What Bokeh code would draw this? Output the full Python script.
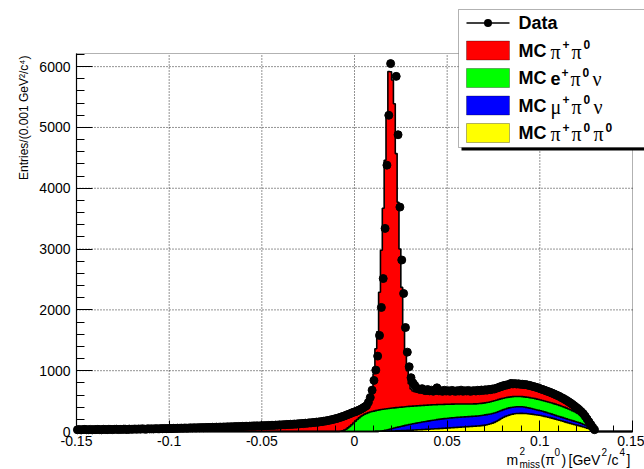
import numpy as np
from bokeh.plotting import figure
from bokeh.models import Range1d, FixedTicker, BoxAnnotation, Label
from bokeh.embed import file_html
from bokeh.resources import INLINE

# ------------------------------------------------------------------ data
bin_lo = -0.15
bin_width = 0.001
n_bins = 300

# data points (bins whose point lies above the displayed range are not shown)
data_counts = [
    28, 33, 26, 31, 35, 29, 30, 34, 27, 32,
    30, 35, 31, 28, 36, 33, 30, 37, 34, 31,
    35, 38, 32, 36, 34, 39, 37, 33, 40, 36,
    38, 41, 37, 42, 39, 44, 40, 38, 45, 42,
    44, 41, 47, 45, 43, 48, 46, 50, 47, 49,
    51, 48, 53, 50, 55, 52, 56, 54, 58, 55,
    57, 60, 58, 62, 59, 63, 61, 65, 62, 66,
    64, 68, 66, 70, 67, 72, 69, 73, 71, 75,
    73, 77, 75, 79, 76, 81, 78, 83, 80, 85,
    83, 87, 85, 89, 86, 91, 88, 93, 90, 95,
    93, 97, 95, 100, 98, 103, 100, 106, 104, 109,
    107, 112, 110, 116, 114, 119, 117, 123, 121, 127,
    126, 132, 130, 137, 135, 142, 141, 148, 147, 155,
    154, 162, 162, 171, 172, 181, 184, 194, 198, 209,
    214, 226, 233, 246, 255, 268, 280, 292, 305, 318,
    325, 340, 352, 368, 385, 405, 425, 480, 560, 680,
    840, 1010, 1240, 1580, 2040, 2515, 3340, 4380, 5200, 6050,
    None, None, 5840, 4880, 3690, 2820, 2270, 1710, 1305, 1065,
    885, 800, 760, 715, 700, 690, 705, 680, 672, 690,
    668, 680, 662, 675, 718, 668, 672, 660, 678, 665,
    670, 662, 676, 668, 660, 672, 665, 680, 662, 670,
    666, 675, 660, 668, 672, 665, 678, 670, 682, 675,
    686, 680, 692, 688, 700, 698, 712, 720, 735, 742,
    755, 760, 768, 775, 790, 782, 788, 780, 785, 775,
    778, 770, 772, 762, 758, 748, 740, 732, 722, 712,
    700, 690, 680, 668, 656, 645, 632, 620, 606, 592,
    578, 560, 545, 528, 510, 490, 470, 448, 425, 400,
    378, 350, 322, 290, 250, 205, 160, 115, 70, 30,
    None, None, None, None, None, None, None, None, None, None,
    None, None, None, None, None, None, None, None, None, None,
]

mc_pipi0 = [
    30, 31, 29, 31, 32, 30, 31, 33, 31, 32,
    32, 33, 32, 33, 34, 33, 34, 35, 34, 35,
    36, 36, 35, 37, 37, 38, 38, 37, 39, 39,
    40, 40, 41, 41, 42, 42, 43, 43, 44, 44,
    45, 45, 46, 46, 47, 47, 48, 48, 49, 50,
    50, 51, 52, 52, 53, 54, 55, 55, 56, 57,
    58, 59, 59, 60, 61, 62, 63, 64, 64, 65,
    66, 67, 68, 69, 70, 71, 72, 73, 74, 75,
    76, 77, 78, 79, 80, 81, 82, 84, 85, 86,
    87, 88, 90, 91, 92, 93, 95, 96, 97, 99,
    100, 102, 103, 105, 106, 108, 110, 111, 113, 115,
    117, 119, 121, 123, 125, 127, 129, 132, 134, 137,
    139, 142, 145, 148, 151, 154, 158, 161, 165, 169,
    173, 177, 181, 185, 189, 193, 197, 201, 205, 209,
    210, 220, 229, 234, 234, 230, 220, 208, 194, 180,
    165, 152, 142, 135, 134, 139, 154, 190, 270, 402,
    615, 1017, 1290, 1934, 2619, 3304, 4090, 4796, 5542, 5533,
    5394, 5001, 4178, 3375, 2602, 1969, 1256, 873, 590, 372,
    284, 247, 235, 228, 224, 220, 217, 214, 211, 208,
    206, 203, 201, 199, 198, 197, 196, 195, 194, 193,
    192, 191, 191, 191, 191, 191, 192, 191, 192, 192,
    193, 193, 193, 194, 194, 194, 193, 192, 191, 189,
    188, 186, 184, 181, 178, 175, 173, 171, 169, 168,
    168, 167, 167, 167, 167, 167, 167, 167, 167, 167,
    167, 167, 167, 167, 167, 166, 166, 165, 165, 164,
    164, 163, 162, 160, 158, 156, 154, 151, 148, 145,
    141, 138, 134, 130, 125, 120, 114, 108, 100, 92,
    84, 76, 68, 59, 51, 42, 32, 22, 12, 2,
    0, 0, 0, 0, 0, 0, 0, 0, 0, 0,
    0, 0, 0, 0, 0, 0, 0, 0, 0, 0,
]

mc_epi0nu = [0] * 140 + [
    0, 0, 3, 10, 22, 38, 60, 85, 112, 140,
    170, 198, 224, 248, 268, 285, 298, 310, 319, 327,
    334, 341, 348, 351, 353, 353, 351, 349, 345, 341,
    337, 332, 327, 323, 319, 314, 311, 306, 303, 299,
    296, 291, 288, 284, 280, 277, 273, 270, 267, 264,
    261, 258, 255, 251, 247, 244, 241, 238, 235, 232,
    230, 228, 226, 223, 221, 219, 216, 215, 213, 211,
    209, 207, 206, 204, 203, 202, 201, 200, 199, 199,
    198, 198, 199, 200, 202, 203, 202, 200, 197, 193,
    188, 185, 181, 178, 175, 173, 171, 169, 168, 167,
    167, 168, 169, 172, 173, 175, 176, 178, 179, 179,
    178, 178, 179, 180, 181, 181, 182, 183, 185, 186,
    183, 182, 180, 178, 176, 173, 169, 165, 160, 154,
    146, 137, 126, 115, 101, 85, 68, 50, 32, 14,
] + [0] * 20

mc_mupi0nu = [0] * 160 + [
    0, 0, 0, 2, 5, 9, 14, 20, 27, 34,
    41, 48, 55, 61, 67, 73, 78, 84, 89, 94,
    99, 104, 108, 112, 116, 120, 124, 127, 130, 134,
    137, 140, 143, 146, 149, 151, 153, 155, 157, 159,
    160, 161, 162, 163, 164, 164, 165, 165, 165, 165,
    165, 165, 165, 165, 165, 165, 166, 167, 168, 168,
    168, 167, 165, 162, 158, 153, 148, 142, 136, 130,
    126, 122, 120, 118, 116, 114, 113, 112, 111, 110,
    108, 105, 102, 98, 95, 92, 89, 86, 83, 80,
    78, 76, 74, 72, 70, 68, 66, 64, 62, 60,
    62, 61, 60, 59, 58, 57, 56, 55, 54, 53,
    52, 50, 48, 45, 42, 38, 33, 26, 18, 8,
] + [0] * 20

mc_pipi0pi0 = [0] * 150 + [
    0, 0, 0, 0, 0, 0, 0, 0, 1, 1,
    1, 2, 2, 3, 3, 4, 5, 5, 6, 7,
    8, 9, 10, 11, 12, 14, 15, 17, 18, 20,
    21, 23, 24, 26, 28, 29, 31, 33, 35, 36,
    38, 40, 42, 44, 46, 48, 50, 52, 54, 56,
    58, 60, 62, 64, 66, 68, 70, 72, 74, 76,
    78, 80, 82, 84, 86, 88, 90, 93, 96, 100,
    105, 111, 118, 127, 137, 150, 165, 182, 200, 218,
    234, 248, 260, 270, 279, 286, 291, 295, 297, 298,
    298, 297, 295, 292, 289, 285, 281, 276, 271, 267,
    262, 256, 249, 242, 235, 228, 220, 212, 203, 194,
    185, 176, 168, 159, 150, 141, 133, 124, 116, 108,
    100, 92, 84, 75, 65, 55, 44, 32, 18, 6,
] + [0] * 20

x_ticks = [-0.15, -0.1, -0.05, 0.0, 0.05, 0.1, 0.15]
x_tick_labels = ["-0.15", "-0.1", "-0.05", "0", "0.05", "0.1", "0.15"]
y_ticks = [0, 1000, 2000, 3000, 4000, 5000, 6000]
y_tick_labels = ["0", "1000", "2000", "3000", "4000", "5000", "6000"]
x_minor = [round(-0.15 + 0.01 * k, 3) for k in range(31)]
y_minor = [200 * k for k in range(32)]
x_lim = (-0.15, 0.15)
y_lim = (0, 6216)

# ------------------------------------------------------------------ layout
W, H = 644, 469
PL, PR, PT, PB = 76, 632, 53, 431          # plot-area edges on the page (px)
FONT = "Liberation Sans"
SERIF = "Liberation Serif"

dx = (x_lim[1] - x_lim[0]) / (PR - PL)
dy = (y_lim[1] - y_lim[0]) / (PB - PT)
p = figure(width=W, height=H, output_backend="svg", toolbar_location=None, title=None,
           x_range=Range1d(x_lim[0] - PL * dx, x_lim[1] + (W - PR) * dx),
           y_range=Range1d(y_lim[0] - (H - PB) * dy, y_lim[1] + PT * dy),
           min_border=0, min_border_left=0, min_border_right=0,
           min_border_top=0, min_border_bottom=0)
p.background_fill_color = "white"
p.border_fill_color = "white"
p.outline_line_color = None
p.xgrid.visible = False
p.ygrid.visible = False

# grid (dotted, at major ticks only)
gx = x_ticks[1:-1]
gy = y_ticks[1:]
p.segment(x0=gx, y0=[y_lim[0]] * len(gx), x1=gx, y1=[y_lim[1]] * len(gx),
          line_color="black", line_dash="1 2", line_width=1, line_alpha=0.85)
p.segment(x0=[x_lim[0]] * len(gy), y0=gy, x1=[x_lim[1]] * len(gy), y1=gy,
          line_color="black", line_dash="1 2", line_width=1, line_alpha=0.85)

# stacked histogram
edges = bin_lo + bin_width * np.arange(n_bins + 1)
centers = edges[:-1] + bin_width / 2
xs = np.repeat(edges, 2)[1:-1]

yellow = np.array(mc_pipi0pi0, dtype=float)
blue = yellow + np.array(mc_mupi0nu, dtype=float)
green = blue + np.array(mc_epi0nu, dtype=float)
red = green + np.array(mc_pipi0, dtype=float)

for top, col in [(red, "#ff0000"), (green, "#00ff00"), (blue, "#0000ff"), (yellow, "#ffff00")]:
    ys = np.repeat(top, 2)
    p.varea(x=xs, y1=np.zeros_like(ys), y2=ys, fill_color=col)
    p.line(x=xs, y=ys, line_color="black", line_width=1.6)

d = np.array(data_counts, dtype=float)
p.scatter(x=centers, y=d, size=8, fill_color="black", line_color="black")

# axes fixed at the plot-area edges
p.xaxis.fixed_location = y_lim[0]
p.yaxis.fixed_location = x_lim[0]
p.xaxis.bounds = x_lim
p.yaxis.bounds = y_lim
p.xaxis.ticker = FixedTicker(ticks=x_ticks, minor_ticks=x_minor)
p.yaxis.ticker = FixedTicker(ticks=y_ticks, minor_ticks=y_minor)
p.xaxis.major_label_overrides = dict(zip(x_ticks, x_tick_labels))
p.yaxis.major_label_overrides = dict(zip(y_ticks, y_tick_labels))
for ax in (p.xaxis, p.yaxis):
    ax.major_tick_out = 0
    ax.minor_tick_out = 0
    ax.axis_line_color = "black"
    ax.axis_line_width = 1.2
    ax.major_tick_line_color = "black"
    ax.minor_tick_line_color = "black"
    ax.major_label_text_font = FONT
    ax.major_label_text_font_size = "14px"
    ax.major_label_text_color = "black"
p.xaxis.major_tick_in = 11
p.xaxis.minor_tick_in = 6
p.yaxis.major_tick_in = 16
p.yaxis.minor_tick_in = 8
p.xaxis.major_label_standoff = 4
p.yaxis.major_label_standoff = 6

# frame (top / right edges)
p.add_layout(BoxAnnotation(left=x_lim[0], right=x_lim[1], bottom=y_lim[0], top=y_lim[1],
                           fill_color=None, line_color="black", line_width=1))

# ------------------------------------------------------------------ page px -> screen units
def sx(px):
    return px

def sy(py):
    return H - py

def box(l, t, r, b, fill, line=None, radius=0):
    p.add_layout(BoxAnnotation(left=sx(l), right=sx(r), top=sy(t), bottom=sy(b),
                               left_units="screen", right_units="screen",
                               top_units="screen", bottom_units="screen",
                               fill_color=fill, fill_alpha=1, border_radius=radius,
                               line_color=line, line_width=1 if line else 0))

def text(px, py, s, size="18px", font=FONT, style="normal", align="left",
         baseline="middle", angle=0):
    p.add_layout(Label(x=sx(px), y=sy(py), x_units="screen", y_units="screen",
                       text=s, text_font=font, text_font_size=size,
                       text_font_style=style, text_align=align,
                       text_baseline=baseline, angle=angle, text_color="black"))

# axis titles
text(23, 55, "Entries/(0.001 GeV\u00b2/c\u2074)", size="12px", align="right",
     baseline="alphabetic", angle=np.pi / 2)
xt = [("m", 506, 459, "14px"), ("2", 519, 450, "10px"), ("miss", 519, 464, "10px"),
      ("(\u03c0", 540, 459, "14px"), ("0", 554, 451, "10px"), (")", 561, 459, "14px"),
      ("[GeV", 568, 459, "14px"), ("2", 601, 451, "10px"), ("/c", 607, 459, "14px"),
      ("4", 619, 451, "10px"), ("]", 626, 459, "14px")]
for s, x0, y0, fs in xt:
    text(x0, y0, s, size=fs, baseline="alphabetic")

# legend
box(461, 12, 660, 150, "black")
box(458, 9, 657, 147, "white", "black")
rows = [22.5, 50, 77.5, 105, 132.5]
box(466, rows[0] - 0.8, 509, rows[0] + 0.8, "black")
box(483.5, rows[0] - 4, 491.5, rows[0] + 4, "black", radius=4)
for r, col in zip(rows[1:], ["#ff0000", "#00ff00", "#0000ff", "#ffff00"]):
    box(466, r - 9.5, 509, r + 9.5, col, "black")

text(518, rows[0], "Data", style="bold")
entries = [
    [("MC", 518, "b"), ("\u03c0", 550, "g"), ("+", 562, "s"), ("\u03c0", 571, "g"), ("0", 583, "s")],
    [("MC", 518, "b"), ("e", 550, "b"), ("+", 561, "s"), ("\u03c0", 570, "g"), ("0", 582, "s"),
     ("\u03bd", 592, "g")],
    [("MC", 518, "b"), ("\u03bc", 550, "g"), ("+", 562, "s"), ("\u03c0", 571, "g"), ("0", 583, "s"),
     ("\u03bd", 593, "g")],
    [("MC", 518, "b"), ("\u03c0", 550, "g"), ("+", 562, "s"), ("\u03c0", 571, "g"), ("0", 583, "s"),
     ("\u03c0", 593, "g"), ("0", 605, "s")],
]
for r, pieces in zip(rows[1:], entries):
    for s, x0, kind in pieces:
        if kind == "b":
            text(x0, r, s, style="bold")
        elif kind == "g":
            text(x0, r + 1, s, size="20px", font=SERIF)
        else:
            text(x0, r - 6, s, size="12px", style="bold")

open("out.html", "w").write(file_html(p, INLINE))
